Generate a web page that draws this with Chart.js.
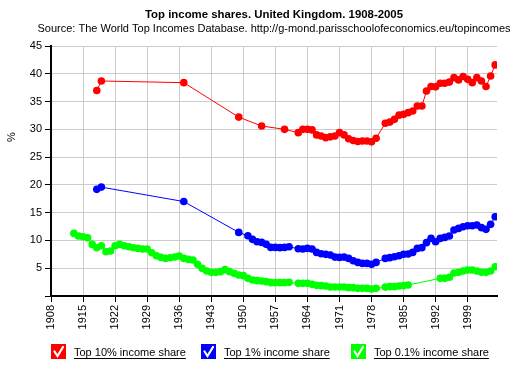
<!DOCTYPE html>
<html>
<head>
<meta charset="utf-8">
<script src="https://cdn.jsdelivr.net/npm/chart.js@4/dist/chart.umd.min.js"></script>
<style>
  html, body { margin: 0; padding: 0; background: #fff; }
</style>
</head>
<body>
<canvas id="incomeChart" width="511" height="376"></canvas>
<script>
const chartTitle = "Top income shares. United Kingdom. 1908-2005";
const chartSource = "Source: The World Top Incomes Database. http://g-mond.parisschoolofeconomics.eu/topincomes";
const yTitle = "%";

const seriesLabels = ["Top 10% income share", "Top 1% income share", "Top 0.1% income share"];
const seriesColors = ["#ff0000", "#0000ff", "#00ff00"];

const xTicks = [1908, 1915, 1922, 1929, 1936, 1943, 1950, 1957, 1964, 1971, 1978, 1985, 1992, 1999];
const yTicks = [5, 10, 15, 20, 25, 30, 35, 40, 45];

const top10Years = [1918, 1919, 1937, 1949, 1954, 1959, 1962, 1963, 1964, 1965, 1966, 1967, 1968, 1969, 1970,
    1971, 1972, 1973, 1974, 1975, 1976, 1977, 1978, 1979, 1981, 1982, 1983, 1984, 1985, 1986, 1987, 1988, 1989,
    1990, 1991, 1992, 1993, 1994, 1995, 1996, 1997, 1998, 1999, 2000, 2001, 2002, 2003, 2004, 2005];
const top10Values = [37.0, 38.7, 38.4, 32.2, 30.6, 30.0, 29.4, 30.0, 30.0, 29.9, 29.0, 28.8, 28.5, 28.65, 28.8,
    29.4, 29.0, 28.3, 28.0, 27.8, 27.9, 27.9, 27.75, 28.4, 31.1, 31.3, 31.8, 32.55, 32.7, 33.0, 33.3, 34.2, 34.2,
    36.9, 37.7, 37.65, 38.3, 38.3, 38.5, 39.3, 38.9, 39.5, 39.0, 38.4, 39.3, 38.7, 37.7, 39.6, 41.6];

const top1Years = [1918, 1919, 1937, 1949, 1951, 1952, 1953, 1954, 1955, 1956, 1957, 1958, 1959, 1960,
    1962, 1963, 1964, 1965, 1966, 1967, 1968, 1969, 1970, 1971, 1972, 1973, 1974, 1975, 1976, 1977, 1978, 1979,
    1981, 1982, 1983, 1984, 1985, 1986, 1987, 1988, 1989, 1990, 1991, 1992, 1993, 1994, 1995, 1996, 1997, 1998,
    1999, 2000, 2001, 2002, 2003, 2004, 2005];
const top1Values = [19.2, 19.6, 17.0, 11.45, 10.85, 10.2, 9.77, 9.65, 9.3, 8.75, 8.75, 8.7, 8.75, 8.87,
    8.5, 8.45, 8.57, 8.45, 7.85, 7.6, 7.5, 7.37, 7.0, 6.95, 7.0, 6.77, 6.35, 6.05, 5.87, 5.87, 5.7, 6.05,
    6.77, 6.9, 7.07, 7.25, 7.5, 7.55, 7.85, 8.57, 8.7, 9.6, 10.37, 9.77, 10.37, 10.55, 10.8, 11.87, 12.17, 12.47,
    12.65, 12.65, 12.77, 12.3, 12.0, 12.9, 14.26];

const top01Years = [1913, 1914, 1915, 1916, 1917, 1918, 1919, 1920, 1921, 1922, 1923, 1924, 1925, 1926, 1927,
    1928, 1929, 1930, 1931, 1932, 1933, 1934, 1935, 1936, 1937, 1938, 1939, 1940, 1941, 1942, 1943, 1944, 1945,
    1946, 1947, 1948, 1949, 1950, 1951, 1952, 1953, 1954, 1955, 1956, 1957, 1958, 1959, 1960,
    1962, 1963, 1964, 1965, 1966, 1967, 1968, 1969, 1970, 1971, 1972, 1973, 1974, 1975, 1976, 1977, 1978, 1979,
    1981, 1982, 1983, 1984, 1985, 1986, 1993, 1994, 1995, 1996, 1997, 1998, 1999, 2000, 2001, 2002, 2003, 2004, 2005];
const top01Values = [11.27, 10.8, 10.67, 10.49, 9.29, 8.69, 9.05, 7.97, 8.09, 9.05, 9.29, 9.05, 8.87, 8.69, 8.57,
    8.45, 8.45, 7.79, 7.25, 6.95, 6.77, 6.89, 7.01, 7.19, 6.77, 6.59, 6.47, 5.7, 4.98, 4.5, 4.26, 4.26, 4.38,
    4.74, 4.38, 4.08, 3.78, 3.66, 3.18, 2.88, 2.76, 2.7, 2.58, 2.4, 2.4, 2.4, 2.4, 2.46,
    2.28, 2.28, 2.28, 2.1, 1.92, 1.86, 1.8, 1.62, 1.62, 1.62, 1.62, 1.5, 1.5, 1.38, 1.38, 1.38, 1.26, 1.38,
    1.6, 1.68, 1.68, 1.8, 1.86, 1.98, 3.18, 3.18, 3.37, 4.14, 4.26, 4.5, 4.68, 4.68, 4.5, 4.26, 4.26, 4.5, 5.27];

const FONT = '"Liberation Sans", Arial, sans-serif';

function toPoints(years, values) {
    return years.map((yr, i) => ({ x: yr, y: values[i] }));
}

function makeDataset(idx, years, values) {
    return {
        label: seriesLabels[idx],
        data: toPoints(years, values),
        borderColor: seriesColors[idx],
        backgroundColor: seriesColors[idx],
        borderWidth: 1,
        pointRadius: 3.8,
        pointBorderWidth: 0,
        pointHoverRadius: 3.8,
        tension: 0
    };
}

// title, axis label and check-box legend drawn by hand
const decorPlugin = {
    id: "decor",
    afterDraw(chart) {
        const ctx = chart.ctx;
        const area = chart.chartArea;
        const cx = (area.left + area.right) / 2;

        ctx.save();
        ctx.fillStyle = "#000";
        ctx.textAlign = "center";
        ctx.textBaseline = "middle";
        ctx.font = "bold 11.4px " + FONT;
        ctx.fillText(chartTitle, cx, 15);
        ctx.font = "11px " + FONT;
        ctx.fillText(chartSource, cx, 29);

        ctx.save();
        ctx.translate(12, 137);
        ctx.rotate(-Math.PI / 2);
        ctx.fillText(yTitle, 0, 0);
        ctx.restore();

        // legend
        ctx.textAlign = "left";
        chart.data.datasets.forEach((ds, i) => {
            const bx = 51 + i * 150;
            const by = 344;
            ctx.fillStyle = ds.borderColor;
            ctx.fillRect(bx, by, 15, 15);

            ctx.strokeStyle = "#fff";
            ctx.lineWidth = 2.2;
            ctx.lineCap = "round";
            ctx.beginPath();
            ctx.moveTo(bx + 3.5, by + 7.5);
            ctx.lineTo(bx + 6.5, by + 12);
            ctx.lineTo(bx + 12, by + 3);
            ctx.stroke();

            const tx = bx + 23;
            ctx.fillStyle = "#000";
            ctx.font = "11px " + FONT;
            ctx.fillText(ds.label, tx, 353);
            const w = ctx.measureText(ds.label).width;
            ctx.strokeStyle = "#000";
            ctx.lineWidth = 1;
            ctx.lineCap = "butt";
            ctx.beginPath();
            ctx.moveTo(tx, 358.5);
            ctx.lineTo(tx + w, 358.5);
            ctx.stroke();
        });
        ctx.restore();
    }
};

new Chart(document.getElementById("incomeChart"), {
    type: "line",
    data: {
        datasets: [
            makeDataset(0, top10Years, top10Values),
            makeDataset(1, top1Years, top1Values),
            makeDataset(2, top01Years, top01Values)
        ]
    },
    options: {
        responsive: false,
        animation: false,
        devicePixelRatio: 1,
        layout: {
            padding: { top: 46, right: 14, bottom: 46, left: 0 }
        },
        plugins: {
            legend: { display: false },
            title: { display: false },
            tooltip: { enabled: false }
        },
        scales: {
            x: {
                type: "linear",
                min: 1908,
                max: 2005.4,
                afterBuildTicks: (scale) => {
                    scale.ticks = xTicks.map(v => ({ value: v }));
                },
                afterFit: (scale) => { scale.height = 34; },
                ticks: {
                    autoSkip: false,
                    minRotation: 90,
                    maxRotation: 90,
                    padding: 3,
                    color: "#000",
                    font: { family: FONT, size: 11 },
                    callback: (v) => String(v)
                },
                grid: {
                    color: "#cccccc",
                    lineWidth: 1,
                    tickColor: "#000",
                    tickLength: 6
                },
                border: { color: "#000", width: 2 }
            },
            y: {
                min: 0,
                max: 45,
                afterBuildTicks: (scale) => {
                    scale.ticks = [0].concat(yTicks).map(v => ({ value: v }));
                },
                afterFit: (scale) => { scale.width = 51; },
                ticks: {
                    padding: 3,
                    color: "#000",
                    font: { family: FONT, size: 11 },
                    callback: (v) => (v === 0 ? "" : String(v))
                },
                grid: {
                    color: "#cccccc",
                    lineWidth: 1,
                    tickColor: "#000",
                    tickLength: 6
                },
                border: { color: "#000", width: 2 }
            }
        }
    },
    plugins: [decorPlugin]
});
</script>
</body>
</html>
